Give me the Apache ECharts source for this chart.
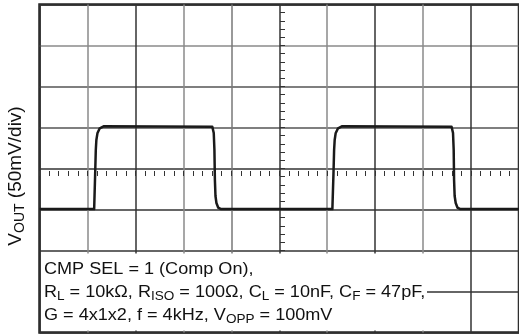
<!DOCTYPE html>
<html>
<head>
<meta charset="utf-8">
<script src="https://cdn.jsdelivr.net/npm/echarts@6/dist/echarts.min.js"></script>
<style>
html,body{margin:0;padding:0;background:#fff;}
#chart{width:519px;height:334px;}
</style>
</head>
<body>
<div id="chart"></div>
<script>
// Time axis (µs), 50 µs/div, 10 divisions
var timeMin = 0, timeMax = 500, timeDiv = 50, timeMinorStep = 10;
// Voltage axis (mV), 50 mV/div, 8 divisions
var voltMin = -200, voltMax = 200, voltDiv = 50, voltMinorStep = 10;

// Waveform
var timeUs = [0, 57.0, 58.0, 58.7, 59.3, 60.4, 62.8, 67.3, 180.2, 181.7, 182.4, 182.9, 183.5, 184.5, 186.3, 189.4,
              305.4, 306.5, 307.2, 307.8, 308.8, 311.3, 315.7, 429.7, 431.2, 431.9, 432.3, 432.9, 434.0, 435.8, 438.9, 500];
var voutMv = [-49.5, -49.5, -7.9, 22.6, 34.8, 42.9, 49.0, 51.6, 51.0, 43.3, 22.6, -14.0, -33.5, -42.1, -47.6, -49.5,
              -49.5, -7.9, 22.6, 34.8, 42.9, 49.0, 51.6, 51.0, 43.3, 22.6, -14.0, -33.5, -42.1, -47.6, -49.5, -49.5];

var yLabel = ['V', 'OUT', ' (50mV/div)'];
var noteLine1 = 'CMP SEL = 1 (Comp On),';
var noteLine2 = [['R', 'L'], [' = 10kΩ, R', 'ISO'], [' = 100Ω, C', 'L'], [' = 10nF, C', 'F'], [' = 47pF,', '']];
var noteLine3 = [['G = 4x1x2, f = 4kHz, V', 'OPP'], [' = 100mV', '']];

var xGridColors = ['#333', '#8a8a8a', '#333', '#8a8a8a', '#777', '#333', '#8a8a8a', '#333', '#8a8a8a', '#333', '#333'];
var yGridColors = ['#333', '#333', '#333', '#333', '#333', '#555', '#555', '#8a8a8a', '#333'];

function richPairs(pairs) {
  return pairs.map(function (p) {
    return '{n|' + p[0] + '}' + (p[1] ? '{s|' + p[1] + '}' : '');
  }).join('');
}

var FONT = '"Liberation Sans", Arial, Helvetica, sans-serif';
var richStyle = {
  n: { fontSize: 16, lineHeight: 20, fontFamily: FONT, fill: '#111', verticalAlign: 'middle' },
  s: { fontSize: 12, lineHeight: 10, fontFamily: FONT, fill: '#111', verticalAlign: 'bottom' }
};
var richY = {
  n: { fontSize: 19, lineHeight: 23, fontFamily: FONT, fill: '#111', verticalAlign: 'middle' },
  s: { fontSize: 14, lineHeight: 11, fontFamily: FONT, fill: '#111', verticalAlign: 'bottom' }
};

var pts = timeUs.map(function (t, i) { return [t, voutMv[i]]; });

var chart = echarts.init(document.getElementById('chart'), null, { renderer: 'canvas' });
chart.setOption({
  animation: false,
  backgroundColor: '#fff',
  grid: {
    left: 39.5, top: 4.5, right: -7.5, bottom: 1.5,
    show: true, borderColor: '#222', borderWidth: 2.5, backgroundColor: 'transparent'
  },
  xAxis: [
    {
      type: 'value', min: timeMin, max: timeMax, interval: timeDiv,
      axisLine: { show: false }, axisTick: { show: false }, axisLabel: { show: false },
      splitLine: { show: true, lineStyle: { color: xGridColors, width: 1.5 } }
    },
    {
      type: 'value', min: timeMin, max: timeMax, interval: timeMinorStep, position: 'bottom', offset: -166.5,
      axisLine: { show: false }, axisLabel: { show: false }, splitLine: { show: false },
      axisTick: { show: true, length: 5, lineStyle: { color: '#333', width: 1 } }
    }
  ],
  yAxis: [
    {
      type: 'value', min: voltMin, max: voltMax, interval: voltDiv,
      axisLine: { show: false }, axisTick: { show: false }, axisLabel: { show: false },
      splitLine: { show: true, lineStyle: { color: yGridColors, width: 1.5 } }
    },
    {
      type: 'value', min: voltMin, max: voltMax, interval: voltMinorStep, position: 'left', offset: -245.5,
      axisLine: { show: false }, axisLabel: { show: false }, splitLine: { show: false },
      axisTick: { show: true, length: 5, lineStyle: { color: '#333', width: 1 } }
    }
  ],
  series: [{
    type: 'line', data: pts, xAxisIndex: 0, yAxisIndex: 0,
    showSymbol: false, symbol: 'none', smooth: false,
    lineStyle: { color: '#1a1a1a', width: 2.5, join: 'round' }, z: 5
  }],
  graphic: [
    { type: 'rect', z: 50, shape: { x: 41, y: 253.5, width: 386, height: 77 }, style: { fill: '#fff' } },
    { type: 'text', z: 51, x: 44, y: 269.5, scaleX: 1.13, originX: 0,
      style: { text: '{n|' + noteLine1 + '}', rich: richStyle, textVerticalAlign: 'middle', textAlign: 'left' } },
    { type: 'text', z: 51, x: 44, y: 292.5, scaleX: 1.13, originX: 0,
      style: { text: richPairs(noteLine2), rich: richStyle, textVerticalAlign: 'middle', textAlign: 'left' } },
    { type: 'text', z: 51, x: 44, y: 315.5, scaleX: 1.13, originX: 0,
      style: { text: richPairs(noteLine3), rich: richStyle, textVerticalAlign: 'middle', textAlign: 'left' } },
    { type: 'text', z: 51, x: 15.5, y: 176, rotation: Math.PI / 2,
      style: { text: '{n|' + yLabel[0] + '}{s|' + yLabel[1] + '}{n|' + yLabel[2] + '}', rich: richY,
               textVerticalAlign: 'middle', textAlign: 'center' } }
  ]
});
</script>
</body>
</html>
